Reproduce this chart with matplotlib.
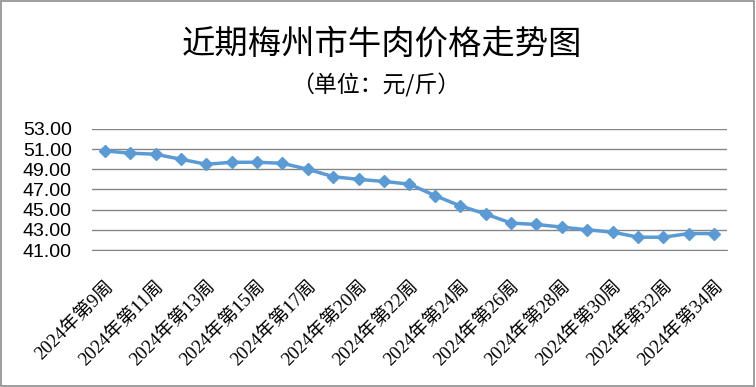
import matplotlib
matplotlib.use("Agg")
import matplotlib.pyplot as plt
from matplotlib.patches import Rectangle

# 周次与价格（元/斤）
weeks = [9, 10, 11, 12, 13, 14, 15, 16, 17, 18, 20, 21, 22, 23, 24, 25, 26,
         27, 28, 29, 30, 31, 32, 33, 34]
prices = [50.83, 50.60, 50.50, 50.00, 49.50, 49.70, 49.70, 49.60, 49.00, 48.27,
          48.00, 47.80, 47.53, 46.40, 45.37, 44.57, 43.67, 43.53, 43.27, 43.00,
          42.77, 42.27, 42.27, 42.63, 42.63]
labels = ["2024年第%d周" % w for w in weeks]
yticks = [41, 43, 45, 47, 49, 51, 53]

cjk = ["Noto Sans CJK SC", "DejaVu Sans"]
serif_cjk = ["Liberation Serif", "Noto Sans CJK SC"]

fig = plt.figure(figsize=(7.56, 3.87), dpi=100)
fig.patches.append(Rectangle((0.001, 0.002), 0.997, 0.995, transform=fig.transFigure,
                             fill=False, edgecolor="#8c8c8c", linewidth=1.2))

ax = fig.add_axes([0.1217, 0.354, 0.8399, 0.3127])
x = list(range(len(weeks)))
ax.plot(x, prices, color="#5B9BD5", linewidth=2.5, marker="D", markersize=6.5,
        markeredgecolor="#5B9BD5", zorder=3)

ax.set_xlim(-0.5, len(weeks) - 0.5)
ax.set_ylim(41, 53)
ax.set_yticks(yticks)
ax.set_yticklabels(["%.2f" % v for v in yticks], fontsize=14, family="Liberation Sans")
ax.yaxis.grid(True, color="#868686", linewidth=1)
ax.set_axisbelow(True)

ax.set_xticks(x[::2])
ax.set_xticklabels(labels[::2], rotation=45, ha="right", va="top",
                   rotation_mode="anchor", fontsize=13.5, family=serif_cjk)
ax.tick_params(axis="x", length=0, pad=20)
ax.tick_params(axis="y", length=0, pad=14.5)

for s in ["left", "right", "top"]:
    ax.spines[s].set_visible(False)
ax.spines["bottom"].set_color("#868686")

fig.text(0.505, 0.885, "近期梅州市牛肉价格走势图", ha="center", va="center",
         fontsize=24, family=cjk)
fig.text(0.497, 0.78, "（单位：元/斤）", ha="center", va="center",
         fontsize=16.5, family=cjk)

fig.savefig("out.png", dpi=100)
